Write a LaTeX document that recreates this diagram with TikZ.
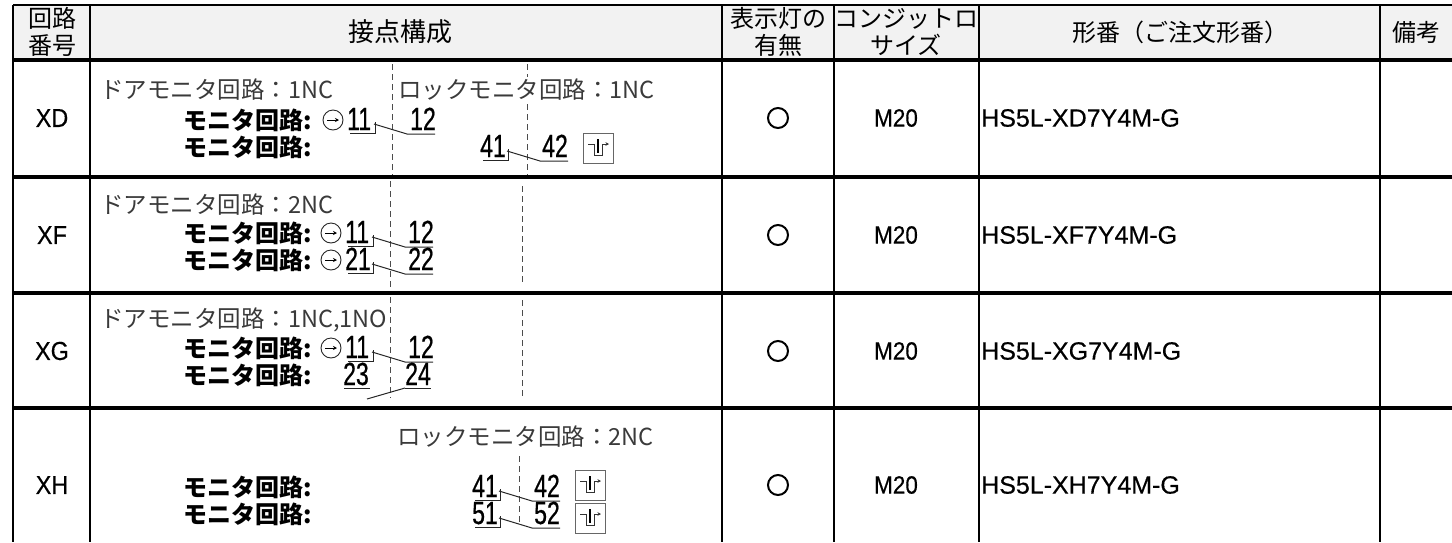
\documentclass[tikz,border=0pt]{standalone}
\usepackage{fontspec}
\setmainfont{Noto Sans CJK JP}
\newfontfamily\latinf[FakeBold=0.4]{Liberation Sans}
\newfontfamily\labf[FakeStretch=0.9,FakeBold=0.4]{Liberation Sans}
\newfontfamily\numf[FakeStretch=0.72,FakeBold=0.6]{Liberation Sans}
\usetikzlibrary{arrows.meta}
\definecolor{hdrgray}{HTML}{F2F2F2}
\definecolor{txtgray}{HTML}{3A3A3A}
\tikzset{
  grid/.style={line width=2.6pt, draw=black},
  hline/.style={line width=3.2pt, draw=black},
  hd/.style={font=\fontsize{24}{27}\selectfont, align=center, inner sep=0pt},
  hdbig/.style={font=\fontsize{26}{28}\selectfont, align=center, inner sep=0pt},
  lab/.style={font=\labf\fontsize{26}{26}\selectfont, inner sep=0pt},
  jg/.style={font=\fontsize{23.5}{24}\selectfont, text=txtgray, anchor=west, inner sep=0pt},
  jb/.style={font=\fontsize{24}{24}\selectfont\bfseries, anchor=west, inner sep=0pt},
  num/.style={font=\numf\fontsize{32}{32}\selectfont, anchor=base west, inner sep=0pt, text height=23pt, text depth=0pt},
  lamp/.style={circle, draw=black, line width=2pt, minimum size=20pt, inner sep=0pt},
  csize/.style={font=\labf\fontsize{25}{25}\selectfont, inner sep=0pt},
  model/.style={font=\latinf\fontsize{25}{25}\selectfont, anchor=west, inner sep=0pt},
  dashline/.style={draw=black!70, line width=1pt, dash pattern=on 6pt off 4pt},
  contact/.style={draw=black!85, line width=1pt},
  opcirc/.style={circle, draw=black!85, line width=0.9pt, minimum size=20pt, inner sep=0pt},
  lockbox/.style={draw=black!60, line width=1pt, minimum size=30pt, inner sep=0pt},
}
% normally closed contact: left number at x=#1, baseline #2
\newcommand\NCsym[2]{%
  \draw[contact] ({#1+3},{#2+3}) -- ({#1+28},{#2+3}) -- ({#1+28},{#2-8});
  \draw[contact] ({#1+27},{#2-6}) -- ({#1+60},{#2+4}) -- ({#1+88},{#2+4});}
% normally open contact
\newcommand\NOsym[2]{%
  \draw[contact] ({#1+1},{#2+3}) -- ({#1+27},{#2+3});
  \draw[contact] ({#1+62},{#2+3}) -- ({#1+88},{#2+3});
  \draw[contact] ({#1+24},{#2+14}) -- ({#1+62},{#2+3});}
% positive opening mark: name, centre
\newcommand\posop[3]{%
  \node[opcirc] (#1) at (#2,#3) {};
  \draw[line width=0.8pt, -{Stealth[length=4pt,width=4pt]}] ({#2-6},#3) -- ({#2+6},#3);}
% lock symbol: name, top left corner (box 30)
\newcommand\locksym[3]{%
  \node[lockbox, anchor=north west] (#1) at (#2,#3) {};
  \draw[line width=1pt, draw=black!80] ({#2+5},{#3+11}) -- ({#2+11},{#3+11}) -- ({#2+11},{#3+22}) -- ({#2+19},{#3+22}) -- ({#2+19},{#3+11});
  \draw[line width=2.6pt] ({#2+15},{#3+6}) -- ({#2+15},{#3+20});
  \draw[line width=0.9pt, draw=black!80, -{Stealth[length=3.5pt,width=3.5pt]}] ({#2+19},{#3+11}) -- ({#2+26},{#3+11});}
\begin{document}
\begin{tikzpicture}[x=1pt, y=-1pt]
\useasboundingbox (0,0) rectangle (1452,542);
% header background
\fill[hdrgray] (13,5) rectangle (1452,60);
% horizontal rules
\draw[grid] (13,5) -- (1452,5);
\foreach \yy in {60,177,293,408} \draw[hline] (13,\yy) -- (1452,\yy);
% vertical rules
\foreach \xx in {13,90,722,834,979,1380} \draw[grid] (\xx,5) -- (\xx,542);

% header texts
\node[hd] (h1) at (52,32) {回路\\番号};
\node[hdbig] (h2) at (400,32) {接点構成};
\node[hd] (h3) at (778,32) {表示灯の\\有無};
\node[hd] (h4) at (906,32) {コンジットロ\\サイズ};
\node[hd] (h5) at (1180,32) {形番（ご注文形番）};
\node[hd] (h6) at (1416,32) {備考};

% row labels and plain columns
\foreach \nm/\yy in {XD/118, XF/235, XG/351, XH/485} {
  \node[lab] (lab\nm) at (52,\yy) {\nm};
  \node[lamp] (lamp\nm) at (778,\yy) {};
  \node[csize] (size\nm) at (896,\yy) {M20};
  \node[model] (model\nm) at (981,\yy) {HS5L-\nm7Y4M-G};
}

% ---- row XD ----
\draw[dashline] (392,64) -- (392,175);
\draw[dashline] (527,64) -- (527,77);
\draw[dashline] (527,104) -- (527,175);
\node[jg] (xdg1) at (100,90) {ドアモニタ回路：1NC};
\node[jg] (xdg2) at (398,90) {ロックモニタ回路：1NC};
\node[jb] (xdb1) at (183,120) {モニタ回路:};
\node[jb] (xdb2) at (183,147) {モニタ回路:};
\posop{xdop}{333}{120}
\node[num] (xd11) at (347,130) {11};
\node[num] (xd12) at (410,130) {12};
\NCsym{347}{130}
\node[num] (xd41) at (480,157) {41};
\node[num] (xd42) at (542,157) {42};
\NCsym{480}{157}
\locksym{xdlk}{583}{133}

% ---- row XF ----
\draw[dashline] (390,181) -- (390,290);
\draw[dashline] (522,186) -- (522,284);
\node[jg] (xfg1) at (100,205) {ドアモニタ回路：2NC};
\node[jb] (xfb1) at (183,233) {モニタ回路:};
\node[jb] (xfb2) at (183,260) {モニタ回路:};
\posop{xfop1}{331}{233}
\node[num] (xf11) at (345,243) {11};
\node[num] (xf12) at (408,243) {12};
\NCsym{345}{243}
\posop{xfop2}{331}{260}
\node[num] (xf21) at (345,270) {21};
\node[num] (xf22) at (408,270) {22};
\NCsym{345}{270}

% ---- row XG ----
\draw[dashline] (390,297) -- (390,398);
\draw[dashline] (522,300) -- (522,398);
\node[jg] (xgg1) at (100,320) {ドアモニタ回路：1NC,1NO};
\node[jb] (xgb1) at (183,348) {モニタ回路:};
\node[jb] (xgb2) at (183,375) {モニタ回路:};
\posop{xgop}{331}{348}
\node[num] (xg11) at (345,358) {11};
\node[num] (xg12) at (408,358) {12};
\NCsym{345}{358}
\node[num] (xg23) at (343,385) {23};
\node[num] (xg24) at (405,385) {24};
\NOsym{343}{385}

% ---- row XH ----
\draw[dashline] (519,456) -- (519,524);
\node[jg] (xhg1) at (397,437) {ロックモニタ回路：2NC};
\node[jb] (xhb1) at (183,487) {モニタ回路:};
\node[jb] (xhb2) at (183,514) {モニタ回路:};
\node[num] (xh41) at (472,497) {41};
\node[num] (xh42) at (534,497) {42};
\NCsym{472}{497}
\locksym{xhlk1}{575}{470}
\node[num] (xh51) at (472,524) {51};
\node[num] (xh52) at (534,524) {52};
\NCsym{472}{524}
\locksym{xhlk2}{575}{503}
\end{tikzpicture}
\end{document}
